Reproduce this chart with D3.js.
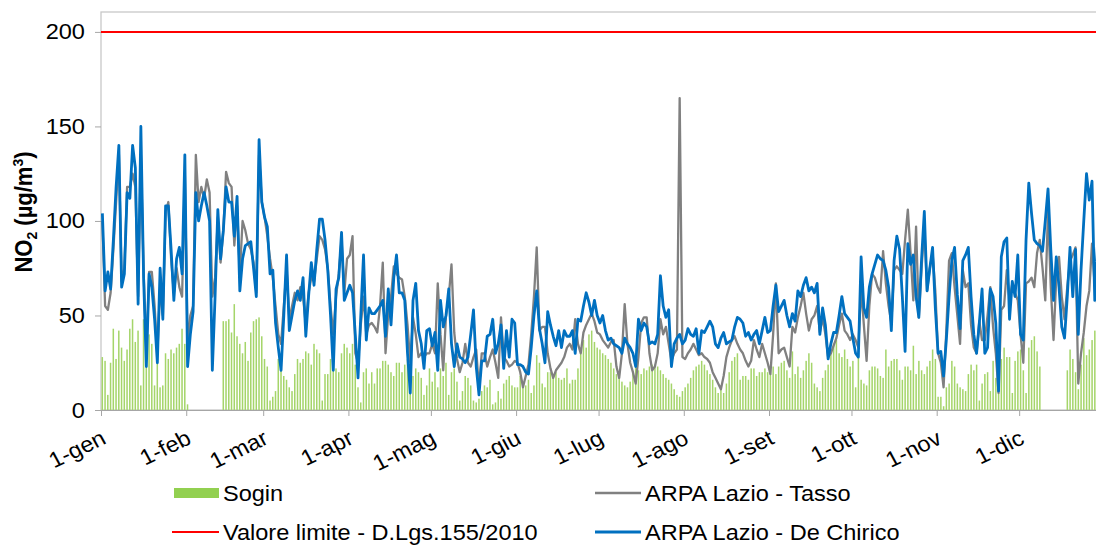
<!DOCTYPE html>
<html lang="it">
<head>
  <meta charset="UTF-8">
  <title>NO2</title>
  <style>
    body { margin: 0; background: #fff; }
    svg text { font-family: "Liberation Sans", Arial, sans-serif; }
  </style>
</head>
<body>
  <script src="https://d3js.org/d3.v7.min.js"></script>
  <script>
    // month ticks
    const months = ['1-gen', '1-feb', '1-mar', '1-apr', '1-mag', '1-giu', '1-lug', '1-ago', '1-set', '1-ott', '1-nov', '1-dic']
    const monthLen = [31, 28, 31, 30, 31, 30, 31, 31, 30, 31, 30, 31]
    const yTicks = [0, 50, 100, 150, 200]
    const limit = 200

    // Sogin (daily bars), null = no data
    const sogin = [].concat(
      [28,26,8,25,43,27,42,33,26,32,43,48,36,42,13,48,44,40,35,13,30,12,13,30,27,32,30,33,35,43,35],
      [3,null,null,null,null,null,null,null,null,null,null,null,null,47,47,48,41,56,39,35,30,36,26,41,47,48,49,39],
      [27,23,5,7,10,27,24,18,16,12,10,19,27,25,27,31,30,24,35,32,30,5,19,19,27,27,22,20,30,35,33],
      [30,35,24,12,4,20,22,14,20,14,22,22,26,26,24,20,18,25,25,20,24,27,10,18,22,20,17,8,13,22],
      [15,20,12,22,18,25,8,20,22,15,5,10,18,17,13,5,4,6,10,13,12,16,3,4,10,6,14,16,18,13,12],
      [12,18,14,13,16,9,13,29,25,14,12,20,20,19,20,17,16,17,22,14,16,16,22,30,37,33,40,42,36,33],
      [32,30,29,27,25,22,19,17,15,13,12,15,20,23,21,19,22,21,23,24,24,23,21,19,17,16,14,11,8,7,10],
      [12,14,17,21,23,24,26,24,21,19,16,12,9,11,9,14,20,26,28,30,16,18,18,16,22,22,18,20,20,22,20],
      [21,23,19,23,25,26,21,17,31,19,23,17,21,26,30,25,14,12,10,17,21,24,31,35,37,30,28,32,27,23],
      [26,12,31,16,14,13,21,23,23,22,18,17,32,23,26,27,27,21,16,23,23,21,34,19,26,21,19,23,26,32,27],
      [7,7,2,12,14,26,23,14,12,11,10,19,24,21,24,5,14,19,20,10,26,17,9,27,33,28,28,9,26,31],
      [32,21,9,33,37,39,31,23,null,null,null,null,null,null,null,null,null,21,32,27,20,11,24,38,29,32,37,42,44,46,48]
    )

    // ARPA Lazio - Tasso
    const tasso = [].concat(
      [100,55,53,62,85,110,136,68,75,118,118,125,118,60,135,73,30,73,73,55,30,65,50,105,110,80,62,75,65,60,125],
      [35,50,55,135,110,118,112,122,115,60,70,102,78,95,126,120,118,87,108,72,100,95,88,85,78,62,135,110],
      [102,92,80,70,55,40,35,55,75,48,55,62,58,65,60,45,62,70,68,80,92,90,85,75,55,40,60,72,90,62,80],
      [82,92,30,25,45,60,40,45,46,44,41,55,78,30,51,60,76,72,70,69,60,45,25,49,40,28,30,28,30,30],
      [35,30,67,40,21,50,60,77,41,27,20,25,35,25,23,28,32,11,30,30,23,28,32,25,17,49,28,26,23,24,26],
      [25,20,12,18,24,40,60,86,42,44,44,30,22,17,21,23,25,28,33,35,32,48,35,30,41,45,48,51,47,41],
      [40,37,35,33,36,37,23,17,30,56,35,25,20,14,28,46,49,49,30,21,23,30,48,40,44,35,26,30,32,165,28],
      [27,30,32,35,32,29,30,28,27,25,20,17,14,11,18,28,33,37,39,35,32,30,26,23,26,37,32,28,35,30,25],
      [19,40,67,30,32,33,28,23,44,41,49,55,62,51,42,48,50,55,41,49,40,28,30,34,38,45,51,42,40,37],
      [40,37,33,65,45,26,55,72,70,65,62,84,67,55,46,74,76,74,72,90,106,83,58,97,49,75,97,63,75,83,63],
      [30,25,12,42,79,83,65,50,35,74,65,67,45,33,30,47,37,37,50,65,44,30,9,53,55,74,58,67,62,58],
      [40,25,67,68,70,65,83,90,75,58,106,65,37,70,81,60,48,65,79,82,86,14,30,41,55,63,88,65,55,50,45]
    )

    // ARPA Lazio - De Chirico
    const deChirico = [].concat(
      [104,63,73,64,90,118,140,65,72,115,112,140,128,56,150,70,23,72,65,48,25,75,48,108,108,85,58,80,86,72,135],
      [23,40,52,115,100,108,115,108,100,21,60,106,80,95,118,110,110,92,113,63,80,87,88,89,75,60,143,110],
      [102,97,72,74,46,33,21,50,82,42,50,58,63,58,70,39,60,78,66,85,101,101,90,74,50,21,64,70,94,58,62],
      [66,62,40,17,50,82,37,54,51,51,53,55,58,39,64,45,70,82,62,62,58,30,9,58,67,42,35,22,42,43],
      [34,41,21,58,44,50,64,35,23,35,28,27,25,28,40,53,23,8,26,26,39,40,48,30,35,45,22,42,28,48,46],
      [24,24,23,20,19,33,50,63,43,35,25,52,45,39,34,42,33,42,39,39,42,30,48,47,55,62,57,50,58,50],
      [46,50,42,37,38,35,34,33,30,38,35,33,30,23,48,42,46,44,35,36,35,40,71,55,49,53,23,35,38,40,35],
      [37,43,40,39,43,30,42,41,44,47,44,35,33,38,41,35,36,37,44,49,48,46,39,41,37,40,42,35,42,49,41],
      [42,55,66,52,55,58,50,44,51,47,63,60,66,70,63,65,62,67,40,54,45,27,35,41,41,50,60,51,49,47],
      [38,30,28,81,54,49,65,72,77,82,80,79,74,65,42,79,92,85,60,31,88,77,82,60,49,80,105,63,75,86,54],
      [30,31,18,37,60,79,86,61,43,79,82,86,60,40,30,46,64,30,33,64,60,46,10,81,89,91,48,68,60,82],
      [40,37,90,120,104,90,88,87,84,100,117,85,58,81,65,44,38,60,86,60,85,40,74,100,125,111,121,58,88,70,50]
    )

    const W = 1096, H = 545
    const plotLeft = 101, plotTop = 12, plotBottom = 410
    const nDays = monthLen.reduce((a, b) => a + b, 0)
    const dayW = 2.749
    const SX = 1.07 // text in the picture is slightly wide

    const monthStarts = monthLen.map((d, i) => d3.sum(monthLen.slice(0, i)))

    const x = d3.scaleLinear().domain([0, nDays]).range([plotLeft, plotLeft + nDays * dayW])
    const xb = d3.scaleBand().domain(d3.range(nDays)).range(x.range()).paddingInner(0.45).paddingOuter(0.2)
    const y = d3.scaleLinear().domain([0, 210]).range([plotBottom, plotTop + 1])

    const svg = d3.select('body').append('svg')
      .attr('width', W)
      .attr('height', H)

    // plot frame
    svg.append('rect')
      .attr('x', plotLeft)
      .attr('y', plotTop)
      .attr('width', x.range()[1] - plotLeft)
      .attr('height', plotBottom - plotTop)
      .attr('fill', 'none')
      .attr('stroke', '#c8c8c8')
      .attr('stroke-width', 1.3)

    // bars
    svg.append('g')
      .selectAll('rect')
      .data(sogin.map((v, i) => ({ i, v })).filter(d => d.v != null))
      .join('rect')
      .attr('x', d => xb(d.i))
      .attr('width', xb.bandwidth())
      .attr('y', d => y(d.v))
      .attr('height', d => y(0) - y(d.v))
      .attr('fill', '#a5d56a')

    // limit line
    svg.append('line')
      .attr('x1', plotLeft)
      .attr('x2', x.range()[1])
      .attr('y1', y(limit))
      .attr('y2', y(limit))
      .attr('stroke', '#ff0000')
      .attr('stroke-width', 2)

    const line = d3.line()
      .x((d, i) => x(i + 0.5))
      .y(d => y(d))

    svg.append('path')
      .datum(tasso)
      .attr('d', line)
      .attr('fill', 'none')
      .attr('stroke', '#808080')
      .attr('stroke-width', 2.3)
      .attr('stroke-linejoin', 'round')

    svg.append('path')
      .datum(deChirico)
      .attr('d', line)
      .attr('fill', 'none')
      .attr('stroke', '#0070c0')
      .attr('stroke-width', 2.8)
      .attr('stroke-linejoin', 'round')

    // y axis
    const yAxis = svg.append('g')
      .attr('transform', `translate(${plotLeft},0)`)
      .call(d3.axisLeft(y).tickValues(yTicks).tickSize(6).tickPadding(9))
    yAxis.select('.domain').remove()
    yAxis.selectAll('line').attr('stroke', '#a6a6a6')
    yAxis.selectAll('text')
      .attr('font-size', 22)
      .attr('fill', '#000')
      .attr('transform', `scale(${SX},1)`)

    // x axis
    const xAxis = svg.append('g')
      .attr('transform', `translate(0,${plotBottom})`)
      .call(d3.axisBottom(x).tickValues(monthStarts).tickFormat((d, i) => months[i]).tickSize(6))
    xAxis.select('.domain').attr('stroke', '#a6a6a6')
    xAxis.selectAll('line').attr('stroke', '#a6a6a6')
    xAxis.selectAll('text')
      .attr('font-size', 22)
      .attr('fill', '#000')
      .attr('x', 0)
      .attr('y', 0)
      .attr('dy', 0)
      .attr('text-anchor', 'end')
      .attr('transform', `translate(6,33) scale(${SX},1) rotate(-27)`)

    // y title
    const title = svg.append('text')
      .attr('transform', `translate(32,212) scale(${SX},1) rotate(-90)`)
      .attr('text-anchor', 'middle')
      .attr('font-size', 22)
      .attr('font-weight', 'bold')
    title.append('tspan').text('NO')
    title.append('tspan').text('2').attr('font-size', 14).attr('dy', 5)
    title.append('tspan').text(' (µg/m').attr('dy', -5)
    title.append('tspan').text('3').attr('font-size', 14).attr('dy', -8)
    title.append('tspan').text(')').attr('dy', 8)

    // legend
    const legend = svg.append('g')
    const addText = (tx, ty, s) => legend.append('text')
      .attr('transform', `translate(${tx},${ty}) scale(${SX},1)`)
      .attr('font-size', 22)
      .text(s)

    legend.append('rect').attr('x', 174).attr('y', 488).attr('width', 45).attr('height', 10).attr('fill', '#92d050')
    addText(223, 501, 'Sogin')
    legend.append('line').attr('x1', 172).attr('x2', 219).attr('y1', 532).attr('y2', 532).attr('stroke', '#ff0000').attr('stroke-width', 2)
    addText(223, 540, 'Valore limite - D.Lgs.155/2010')
    legend.append('line').attr('x1', 595).attr('x2', 641).attr('y1', 493).attr('y2', 493).attr('stroke', '#808080').attr('stroke-width', 2.3)
    addText(645, 501, 'ARPA Lazio - Tasso')
    legend.append('line').attr('x1', 595).attr('x2', 641).attr('y1', 532).attr('y2', 532).attr('stroke', '#0070c0').attr('stroke-width', 2.8)
    addText(645, 540, 'ARPA Lazio - De Chirico')
  </script>
</body>
</html>
